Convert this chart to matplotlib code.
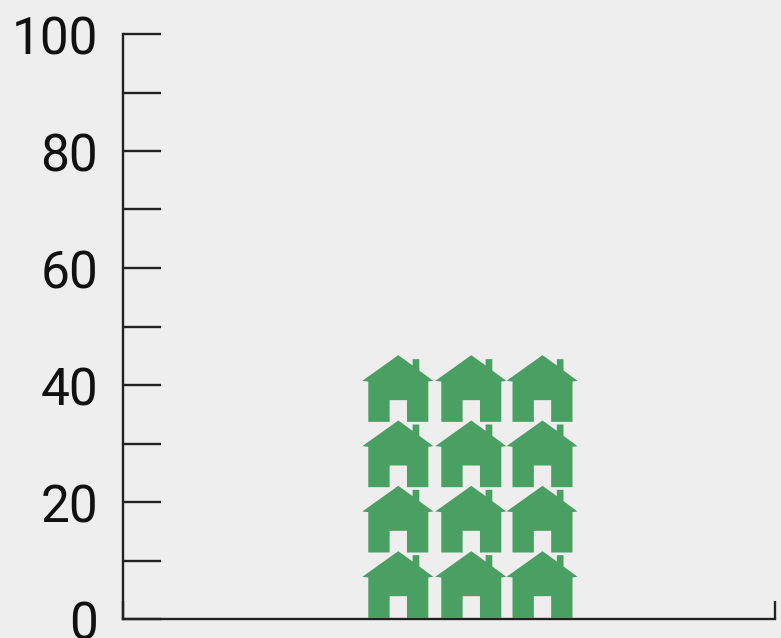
import matplotlib
matplotlib.use("Agg")
import matplotlib.pyplot as plt
from matplotlib.path import Path
from matplotlib.patches import PathPatch
from matplotlib.transforms import ScaledTranslation

category_edges = [0, 1]
bar_value = 45.1
house_rows = 4
house_cols = 3
y_major = [0, 20, 40, 60, 80, 100]
y_minor = [10, 30, 50, 70, 90]
y_labels = ["0", "20", "40", "60", "80", "100"]

W, H = 781, 638
BG = "#EEEEEE"
GREEN = "#4A9F63"
INK = "#222222"
plt.rcParams["font.family"] = ["Roboto", "DejaVu Sans"]

fig = plt.figure(figsize=(W / 100, H / 100), dpi=100, facecolor=BG)
L, R, T, B = 123, 775, 34, 619
ax = fig.add_axes([L / W, 1 - B / H, (R - L) / W, (B - T) / H], facecolor=BG)
ax.set_xlim(category_edges[0], category_edges[1])
ax.set_ylim(0, 100)

for s in ("top", "right"):
    ax.spines[s].set_visible(False)
for s in ("left", "bottom"):
    ax.spines[s].set_color(INK)
    ax.spines[s].set_linewidth(1.7)

ax.set_yticks(y_major)
ax.set_yticklabels(y_labels)
ax.set_yticks(y_minor, minor=True)
ax.tick_params(axis="y", which="both", direction="in", length=27.4, width=1.7,
               color=INK, labelsize=37, labelcolor="#111111", pad=18)
shift = ScaledTranslation(0, -6.5 / 100, fig.dpi_scale_trans)
for lab in ax.get_yticklabels():
    lab.set_verticalalignment("center")
    lab.set_transform(lab.get_transform() + shift)
ax.set_xticks(category_edges)
ax.set_xticklabels([])
ax.tick_params(axis="x", direction="in", length=13, width=1.7, color=INK)

# house outline: x relative to centre, y from top, on a 200-unit tall house
raw = [(0, 0), (43, 31), (43, 12), (63, 12), (63, 46), (105, 77), (90, 79), (90, 200),
       (26, 200), (26, 135), (-26, 135), (-26, 200), (-90, 200), (-90, 79),
       (-108, 77), (0, 0)]
xscale_px = 66.67 / 200
px_per_unit = (B - T) / 100
pitch = 65.33 / px_per_unit
house_h = 66.67 / px_per_unit
col_offsets_px = [398.3, 471.3, 542.5]
for row in range(house_rows):
    top = bar_value - row * pitch
    for col in range(house_cols):
        cx = (col_offsets_px[col] - L) / (R - L)
        verts = [(cx + x * xscale_px / (R - L), top - y / 200 * house_h) for x, y in raw]
        codes = [Path.MOVETO] + [Path.LINETO] * (len(verts) - 2) + [Path.CLOSEPOLY]
        ax.add_patch(PathPatch(Path(verts, codes), facecolor=GREEN, edgecolor="none", zorder=1))

fig.savefig("out.png", dpi=100, facecolor=BG)
